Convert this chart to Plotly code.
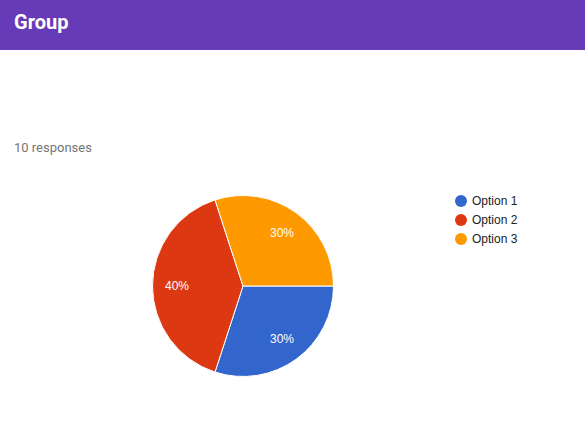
import math
import plotly.graph_objects as go

title = "Group"
subtitle = "10 responses"
labels = ["Option 1", "Option 2", "Option 3"]
values = [3, 4, 3]
colors = ["#3366cc", "#dc3912", "#ff9900"]

W, H = 585, 431
fig = go.Figure()

cx, cy, r = 243, 286, 90.5
fig.add_trace(go.Pie(
    labels=labels, values=values, sort=False, direction="clockwise", rotation=90,
    marker=dict(colors=colors, line=dict(color="white", width=1)),
    textinfo="none",
    hoverinfo="label+percent", showlegend=False,
    domain=dict(x=[(cx - r) / W, (cx + r) / W], y=[(H - cy - r) / H, (H - cy + r) / H]),
))

annotations = [
    dict(text="<b>" + title + "</b>", xref="paper", yref="paper", x=12 / W, y=1 - 22 / H,
         xanchor="left", yanchor="middle", showarrow=False,
         font=dict(size=20, color="white", family="Roboto, Arial, sans-serif")),
    dict(text=subtitle, xref="paper", yref="paper", x=12 / W, y=1 - 147 / H,
         xanchor="left", yanchor="middle", showarrow=False,
         font=dict(size=13, color="#757575", family="Roboto, Arial, sans-serif")),
]
shapes = [dict(type="rect", xref="paper", yref="paper", x0=0, x1=1,
               y0=1 - 50 / H, y1=1, fillcolor="#673ab7", line=dict(width=0), layer="below")]

# slice labels (percent), placed along each slice's mid-angle
total = sum(values)
start = 0.0
for v in values:
    frac = v / total
    mid = (start + frac / 2) * 2 * math.pi  # clockwise from 3 o'clock
    px = cx + 0.73 * r * math.cos(mid)
    py = cy + 0.73 * r * math.sin(mid)
    annotations.append(dict(text=f"{round(frac * 100)}%", xref="paper", yref="paper",
                            x=px / W, y=1 - py / H, xanchor="center", yanchor="middle",
                            showarrow=False,
                            font=dict(size=12, color="white", family="Arial, Liberation Sans, sans-serif")))
    start += frac

# legend
lx, ly0, dy = 461, 201, 19
for i, (lab, col) in enumerate(zip(labels, colors)):
    y = ly0 + i * dy
    shapes.append(dict(type="circle", xref="paper", yref="paper",
                       x0=(lx - 6) / W, x1=(lx + 6) / W, y0=1 - (y + 6) / H, y1=1 - (y - 6) / H,
                       fillcolor=col, line=dict(width=0)))
    annotations.append(dict(text=lab, xref="paper", yref="paper", x=(lx + 9) / W, y=1 - y / H,
                            xanchor="left", yanchor="middle", showarrow=False,
                            font=dict(size=12, color="#222222", family="Arial, Liberation Sans, sans-serif")))

fig.update_layout(
    width=W, height=H, margin=dict(l=0, r=0, t=0, b=0),
    paper_bgcolor="white", plot_bgcolor="white",
    showlegend=False,
    shapes=shapes, annotations=annotations,
)
fig.write_html("out.html", config={"displayModeBar": False},
               post_script="document.body.style.margin='0';")
